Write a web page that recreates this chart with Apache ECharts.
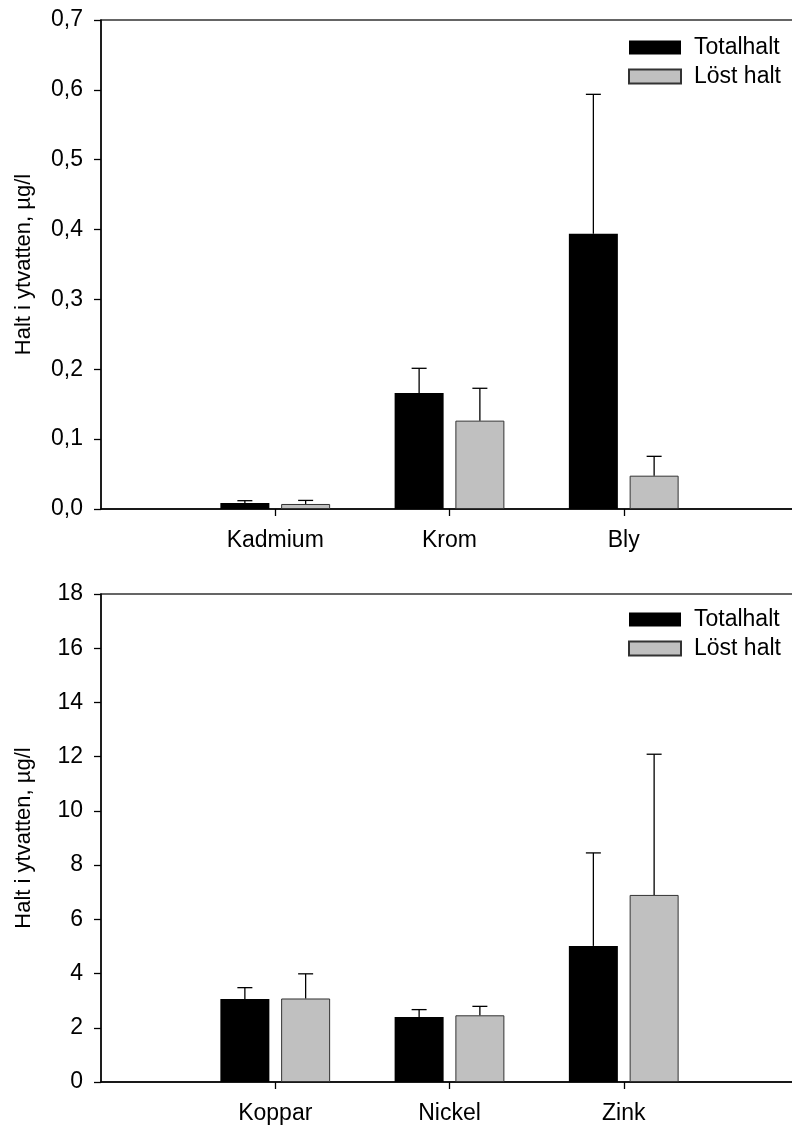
<!DOCTYPE html>
<html><head><meta charset="utf-8">
<script src="https://cdn.jsdelivr.net/npm/echarts@6/dist/echarts.min.js"></script>
<style>html,body{margin:0;padding:0;background:#fff}#c{width:792px;height:1126px}</style>
</head><body><div id="c"></div>
<script>
// ---- data ----
const seriesNames = ['Totalhalt', 'Löst halt'];
const yAxisTitle = 'Halt i ytvatten, µg/l';

const topCategories = ['Kadmium', 'Krom', 'Bly'];
const topTotal = [0.0086, 0.166, 0.394];
const topTotalErr = [0.0033, 0.0354, 0.1996];
const topLoose = [0.0072, 0.1265, 0.0477];
const topLooseErr = [0.0051, 0.0463, 0.0277];
const topYMax = 0.7, topYStep = 0.1;

const botCategories = ['Koppar', 'Nickel', 'Zink'];
const botTotal = [3.06, 2.40, 5.02];
const botTotalErr = [0.42, 0.27, 3.43];
const botLoose = [3.08, 2.46, 6.90];
const botLooseErr = [0.91, 0.33, 5.19];
const botYMax = 18, botYStep = 2;

// ---- styling ----
const FONT = '"Liberation Sans", Arial, Helvetica, sans-serif';
const BAR_WIDTH = 49;
const BAR_GAP = 0.24;
const barOffset = BAR_WIDTH * (1 + BAR_GAP) / 2;
const CAP_HALF = 7.5;
const LOOSE_COLOR = '#c0c0c0';

function padCats(c) { return [' '].concat(c, ['  ']); }
function pairs(vals) { return vals.map((v, i) => [i + 1, v]); }
function triples(vals, errs) { return vals.map((v, i) => [i + 1, v, errs[i]]); }

function errRender(side) {
  return function (params, api) {
    const xi = api.value(0), v = api.value(1), e = api.value(2);
    const p0 = api.coord([xi, v]);
    const p1 = api.coord([xi, v + e]);
    const x = p0[0] + side * barOffset;
    const st = { stroke: '#000', lineWidth: 1.3 };
    return {
      type: 'group', children: [
        { type: 'line', shape: { x1: x, y1: p0[1], x2: x, y2: p1[1] }, style: st },
        { type: 'line', shape: { x1: x - CAP_HALF, y1: p1[1], x2: x + CAP_HALF, y2: p1[1] }, style: st }
      ]
    };
  };
}

function xAxisFor(gi, cats) {
  return {
    gridIndex: gi, type: 'category', data: padCats(cats), boundaryGap: false,
    axisLine: { lineStyle: { color: '#000', width: 1.5 } },
    axisTick: { length: 7, lineStyle: { color: '#000', width: 1.3 },
      interval: (idx) => idx >= 1 && idx <= cats.length },
    axisLabel: { interval: 0, margin: 20, color: '#000', fontSize: 23, fontFamily: FONT },
    splitLine: { show: false }
  };
}
function yAxisFor(gi, max, step, fmt) {
  return {
    gridIndex: gi, type: 'value', min: 0, max: max, interval: step,
    name: yAxisTitle, nameLocation: 'middle', nameGap: 66,
    nameTextStyle: { color: '#000', fontSize: 22, fontFamily: FONT },
    axisLine: { show: true, lineStyle: { color: '#000', width: 1.5 } },
    axisTick: { show: true, length: 7, lineStyle: { color: '#000', width: 1.3 } },
    axisLabel: { margin: 18, color: '#000', fontSize: 23, fontFamily: FONT, formatter: fmt },
    splitLine: { show: false }
  };
}
function legendAt(top) {
  return {
    data: seriesNames, orient: 'vertical', left: 628, top: top, padding: 0,
    itemWidth: 52, itemHeight: 14, itemGap: 6, selectedMode: false,
    icon: 'rect',
    textStyle: { color: '#000', fontSize: 23, fontFamily: FONT, padding: [0, 0, 0, 8] }
  };
}
function barSeries(name, gi, vals, color, border) {
  return {
    name: name, type: 'bar', xAxisIndex: gi, yAxisIndex: gi,
    data: pairs(vals), barWidth: BAR_WIDTH, barGap: (BAR_GAP * 100) + '%',
    itemStyle: { color: color, borderColor: border ? '#333' : color, borderWidth: border ? 1 : 0 },
    emphasis: { disabled: true }, animation: false
  };
}
function errSeries(gi, vals, errs, side) {
  return {
    name: 'err', type: 'custom', xAxisIndex: gi, yAxisIndex: gi,
    data: triples(vals, errs), encode: { x: 0, y: 1 },
    renderItem: errRender(side), clip: false, z: 5, animation: false, silent: true
  };
}

const gridBase = { left: 101, width: 697, show: true, borderColor: '#333', borderWidth: 1.3,
  backgroundColor: 'transparent', containLabel: false, outerBoundsMode: 'none' };

const chart = echarts.init(document.getElementById('c'), null, { renderer: 'canvas' });
chart.setOption({
  backgroundColor: '#fff',
  animation: false,
  textStyle: { fontFamily: FONT },
  grid: [
    Object.assign({}, gridBase, { top: 20, height: 489 }),
    Object.assign({}, gridBase, { top: 594, height: 488 })
  ],
  legend: [legendAt(36), legendAt(608)],
  xAxis: [xAxisFor(0, topCategories), xAxisFor(1, botCategories)],
  yAxis: [
    yAxisFor(0, topYMax, topYStep, v => v.toFixed(1).replace('.', ',')),
    yAxisFor(1, botYMax, botYStep, v => String(Math.round(v)))
  ],
  series: [
    barSeries(seriesNames[0], 0, topTotal, '#000', false),
    barSeries(seriesNames[1], 0, topLoose, LOOSE_COLOR, true),
    errSeries(0, topTotal, topTotalErr, -1),
    errSeries(0, topLoose, topLooseErr, 1),
    barSeries(seriesNames[0], 1, botTotal, '#000', false),
    barSeries(seriesNames[1], 1, botLoose, LOOSE_COLOR, true),
    errSeries(1, botTotal, botTotalErr, -1),
    errSeries(1, botLoose, botLooseErr, 1)
  ]
});
</script>
</body></html>
